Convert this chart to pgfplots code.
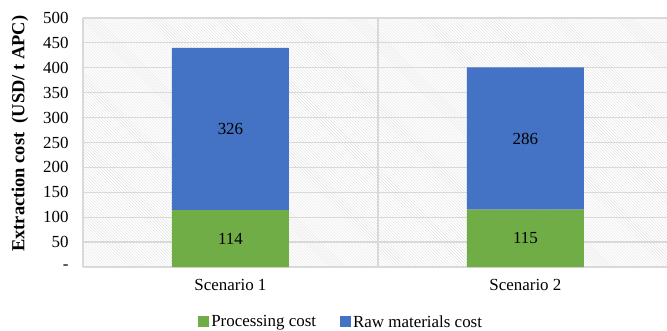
\documentclass[border=0pt]{standalone}
\usepackage{pgfplots}
\pgfplotsset{compat=1.18}
\usepackage{fontspec}
\setmainfont{Liberation Serif}
\usetikzlibrary{patterns}
\definecolor{cgreen}{HTML}{70AD47}
\definecolor{cblue}{HTML}{4472C4}
\definecolor{cgrid}{HTML}{D9D9D9}
\begin{document}
\begin{tikzpicture}[font=\fontsize{17}{20}\selectfont]
\begin{axis}[
  name=ax,
  scale only axis,
  width=584bp, height=249bp,
  ybar stacked,
  bar width=117bp,
  xmin=-0.5, xmax=1.48,
  ymin=0, ymax=500,
  xtick={0,1},
  xticklabels={Scenario 1, Scenario 2},
  extra x ticks={0.5},
  extra x tick labels={},
  extra x tick style={grid=major, major tick length=0pt},
  ytick={0,50,...,500},
  yticklabels={-,50,100,150,200,250,300,350,400,450,500},
  ymajorgrids,
  grid style={cgrid, line width=1.2bp},
  major tick length=0pt,
  axis lines*=left,
  axis line style={cgrid, line width=1.2bp},
  axis background/.style={pattern=north west lines, pattern color=black!12},
  yticklabel style={xshift=-11bp},
  xticklabel style={yshift=-9bp},
  every axis y label/.style={at={(axis description cs:-0.108,0.535)}, rotate=90, anchor=center, font=\fontsize{18.5}{22}\selectfont\bfseries},
  ylabel={Extraction cost\ \ (USD/ t APC)},
  legend columns=2,
  legend style={at={(0.442,-0.221)}, anchor=center, draw=none, fill=none,
    /tikz/every even column/.append style={column sep=22bp},
    font=\fontsize{17}{20}\selectfont},
  legend image code/.code={\fill[#1] (0bp,-5bp) rectangle (11bp,6bp);},
]
\addplot[fill=cgreen, draw=none] coordinates {(0,114) (1,115)};
\addlegendentry{Processing cost}
\addplot[fill=cblue, draw=none] coordinates {(0,326) (1,286)};
\addlegendentry{Raw materials cost}
\end{axis}
\begin{axis}[
  scale only axis,
  width=584bp, height=249bp,
  xmin=-0.5, xmax=1.48,
  ymin=0, ymax=500,
  hide axis,
]
\addplot[only marks, mark=none, nodes near coords, point meta=explicit symbolic,
  nodes near coords style={anchor=center, text=black, font=\fontsize{17}{20}\selectfont}]
  coordinates {(0,57)[114] (0,277)[326] (1,57.5)[115] (1,258)[286]};
\end{axis}
\pgfresetboundingbox
\path[use as bounding box] ([xshift=-83bp,yshift=-64bp]ax.south west) rectangle ([yshift=18bp]ax.north east);
\end{tikzpicture}
\end{document}
